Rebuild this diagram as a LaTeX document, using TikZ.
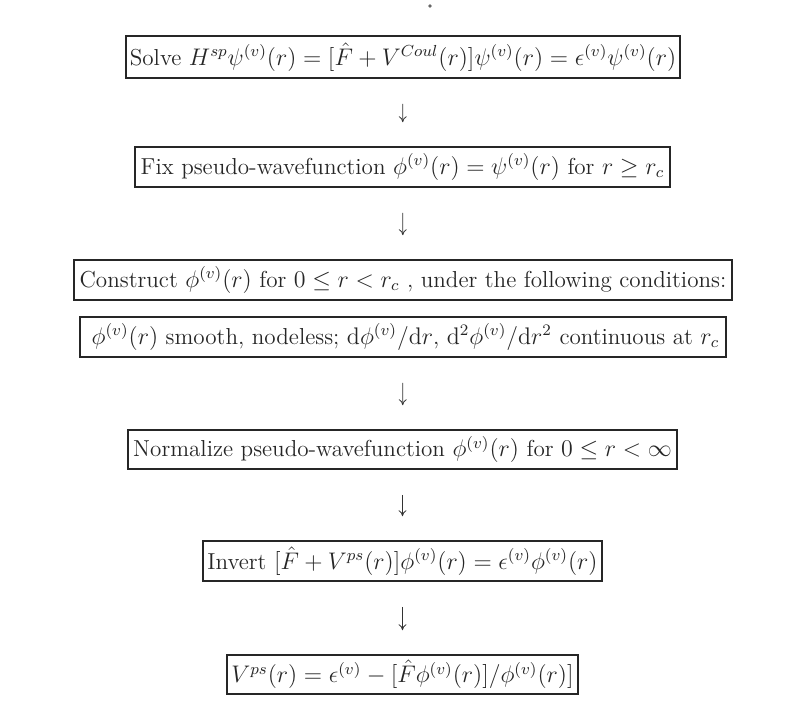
\documentclass[tikz,border=0pt]{standalone}
\usepackage{amsmath}
\usetikzlibrary{arrows.meta}
\begin{document}
\begin{tikzpicture}[x=0.5pt,y=-0.5pt,
  box/.style={draw=black!85, line width=0.8pt, inner sep=0pt, align=center, text=black!85,
    font=\fontsize{11.55pt}{13.8pt}\selectfont},
  flow/.style={-{To[length=3pt,width=4pt]}, line width=0.4pt, draw=black!80, shorten <=12.5pt, shorten >=12pt}]
\useasboundingbox (0,0) rectangle (795,711);
\fill[black!60] (430,6) circle (0.9pt);
\node[box, minimum width=277pt, minimum height=21pt] (s1) at (403,57)
  {Solve $H^{sp}\psi^{(v)}(r)=[\hat{F}+V^{Coul}(r)]\psi^{(v)}(r)=\epsilon^{(v)}\psi^{(v)}(r)$};
\node[box, minimum width=267.5pt, minimum height=20pt] (s2) at (402.5,167)
  {Fix pseudo-wavefunction $\phi^{(v)}(r)=\psi^{(v)}(r)$ for $r\geq r_c$};
\node[box, minimum width=329pt, minimum height=20pt] (s3) at (403,280)
  {Construct $\phi^{(v)}(r)$ for $0\leq r<r_c$ , under the following conditions:};
\node[box, minimum width=323pt, minimum height=20pt] (s4) at (403,337)
  {\hspace{2.5pt}$\phi^{(v)}(r)$ smooth, nodeless; $\mathrm{d}\phi^{(v)}/\mathrm{d}r$, $\mathrm{d}^2\phi^{(v)}/\mathrm{d}r^2$ continuous at $r_c$};
\node[box, minimum width=274.5pt, minimum height=19.5pt] (s5) at (402.5,449.5)
  {Normalize pseudo-wavefunction $\phi^{(v)}(r)$ for $0\leq r<\infty$};
\node[box, minimum width=199.5pt, minimum height=20pt] (s6) at (402.5,561)
  {Invert $[\hat{F}+V^{ps}(r)]\phi^{(v)}(r)=\epsilon^{(v)}\phi^{(v)}(r)$};
\node[box, minimum width=175.5pt, minimum height=19.5pt] (s7) at (402.5,674.5)
  {$V^{ps}(r)=\epsilon^{(v)}-[\hat{F}\phi^{(v)}(r)]/\phi^{(v)}(r)]$};
\draw[flow] (s1) -- (s2);
\draw[flow] (s2) -- (s3);
\draw[flow] (s4) -- (s5);
\draw[flow] (s5) -- (s6);
\draw[flow] (s6) -- (s7);
\end{tikzpicture}
\end{document}
